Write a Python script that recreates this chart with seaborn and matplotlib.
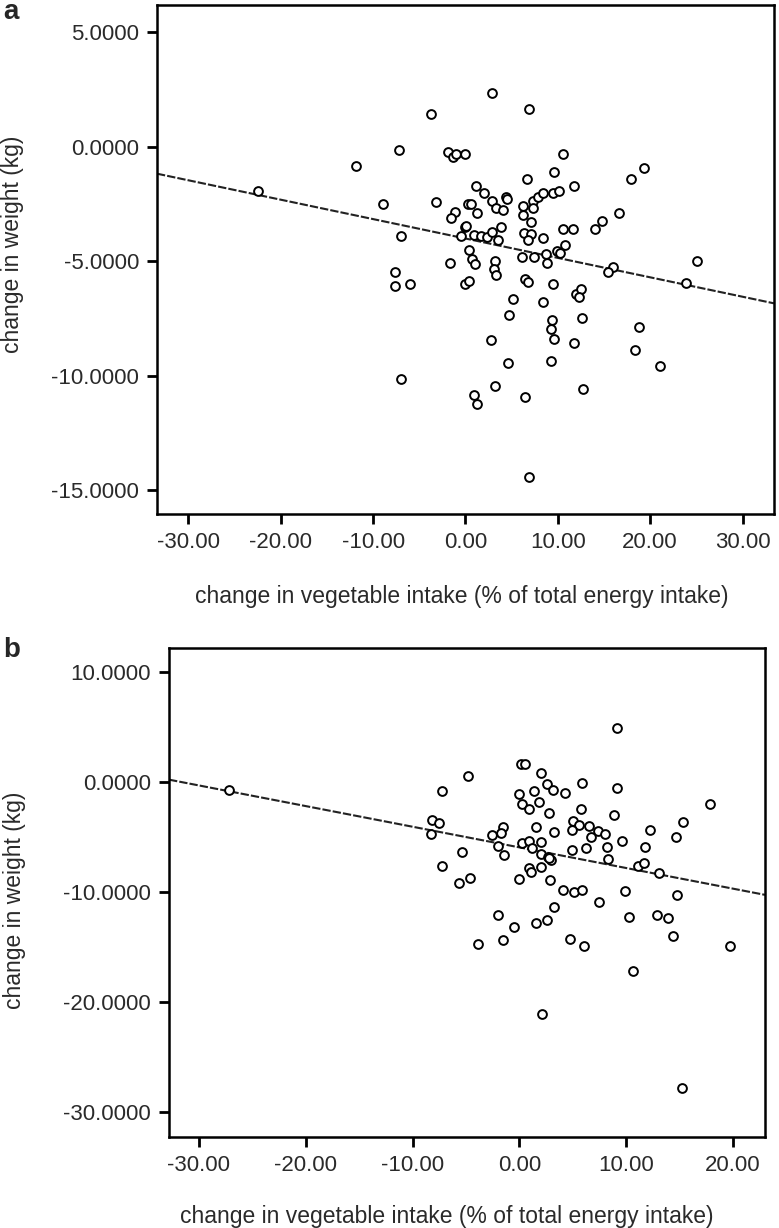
import matplotlib
matplotlib.use('Agg')
import matplotlib.pyplot as plt
from matplotlib.ticker import FormatStrFormatter
import seaborn as sns
import pandas as pd
import numpy as np

# panel a: change in vegetable intake (% energy) vs change in weight (kg)
veg_a = [-22.5, -11.87, -8.92, -7.22, -7.59, -7.59, -6.0, -6.94, -6.94, -3.70,
         -3.15, -1.86, -1.35, -0.99, 0.0, -1.13, -1.53, -0.09, -0.52, 0.27,
         0.35, -1.65, -0.09, 0.38, 2.90, 6.90, 10.54, 6.68, 9.57, 11.8,
         1.10, 2.0, 2.9, 4.35, 4.45, 3.26, 4.05, 0.63, 1.28, 6.22,
         7.30, 7.88, 8.41, 9.46, 10.1, 7.3, 6.22, 7.05, 6.32, 7.11,
         6.76, 8.41, 10.54, 11.6, 0.02, 0.92, 1.64, 2.36, 2.90, 3.85,
         3.5, 10.76, 9.93, 10.29, 8.67, 6.14, 7.41, 8.84, 0.74, 1.03,
         3.19, 3.08, 3.33, 6.43, 6.79, 9.5, 11.98, 12.56, 12.27, 5.1,
         8.38, 4.7, 9.32, 9.21, 9.64, 12.63, 2.72, 11.73, 18.76, 18.4,
         21.1, 4.63, 9.28, 3.15, 12.7, 0.92, 1.28, 6.5, 6.86, 19.37,
         17.9, 16.67, 14.0, 14.8, 25.1, 23.87, 15.98, 15.4]
wt_a = [-1.91, -0.83, -2.49, -0.13, -5.46, -6.09, -5.99, -3.88, -10.14, 1.45,
        -2.41, -0.22, -0.43, -0.29, -0.33, -2.86, -3.12, -3.49, -3.88, -2.49,
        -4.49, -5.07, -5.99, -5.87, 2.36, 1.67, -0.33, -1.41, -1.12, -1.71,
        -1.71, -2.0, -2.35, -2.2, -2.27, -2.68, -2.78, -2.49, -2.9, -2.58,
        -2.35, -2.2, -2.0, -2.0, -1.91, -2.68, -2.97, -3.29, -3.77, -3.8,
        -4.06, -3.99, -3.6, -3.6, -3.48, -3.87, -3.9, -3.95, -3.70, -3.5,
        -4.08, -4.27, -4.57, -4.66, -4.67, -4.83, -4.83, -5.07, -4.88, -5.1,
        -4.97, -5.36, -5.61, -5.77, -5.91, -5.99, -6.42, -6.23, -6.55, -6.67,
        -6.77, -7.35, -7.58, -7.97, -8.38, -7.46, -8.45, -8.58, -7.87, -8.87,
        -9.57, -9.46, -9.38, -10.46, -10.58, -10.84, -11.23, -10.94, -14.42, -0.91,
        -1.42, -2.90, -3.6, -3.26, -4.97, -5.94, -5.26, -5.46]

# panel b
veg_b = [-27.17, -7.26, -4.78, -8.16, -7.54, -8.25, -5.36, -7.26, -5.61, -4.64,
         9.13, 0.2, 0.5, 2.03, 2.55, 3.11, 5.83, 9.19, 4.3, 0.0,
         0.25, 0.87, 1.4, 1.8, 2.74, 5.77, 8.82, 17.85, 15.36, 14.7,
         12.21, 11.78, 4.98, 5.61, 4.89, 6.54, 7.41, 8.0, 6.7, 3.27,
         1.56, -2.55, -1.56, -1.71, -2.03, -1.47, 0.25, 0.87, 2.03, 1.18,
         2.03, 2.65, 2.96, 2.8, 4.89, 6.23, 8.2, 9.6, 8.32, 11.12,
         11.68, 13.08, 0.93, 1.09, 2.03, 0.0, 2.9, 4.05, 5.14, 5.86,
         9.88, 14.74, 7.45, 3.24, -2.03, -0.47, 1.56, 2.59, -3.89, -1.56,
         4.77, 6.07, 10.28, 12.93, 13.95, 14.42, 19.69, 10.68, 2.09, 15.27]
wt_b = [-0.67, -0.79, 0.55, -3.45, -3.75, -4.67, -6.33, -7.64, -9.21, -8.76,
        4.94, 1.64, 1.64, 0.85, -0.12, -0.73, -0.06, -0.48, -0.97, -1.09,
        -1.94, -2.48, -0.79, -1.79, -2.76, -2.45, -2.94, -1.94, -3.61, -4.97,
        -4.36, -5.88, -3.55, -3.85, -4.36, -3.97, -4.45, -4.73, -5.03, -4.52,
        -4.06, -4.82, -4.06, -4.58, -5.82, -6.58, -5.52, -5.33, -5.42, -5.97,
        -6.55, -6.79, -7.09, -6.94, -6.18, -5.97, -5.88, -5.36, -7.0, -7.64,
        -7.33, -8.24, -7.85, -8.15, -7.76, -8.85, -8.91, -9.82, -9.97, -9.82,
        -9.91, -10.27, -10.88, -11.33, -12.05, -13.15, -12.85, -12.55, -14.76, -14.36,
        -14.27, -14.88, -12.24, -12.09, -12.33, -13.97, -14.88, -17.18, -21.09, -27.85]

xlabel = 'change in vegetable intake (% of total energy intake)'
ylabel = 'change in weight (kg)'

sns.set_style('ticks')
plt.rcParams['font.family'] = ['Liberation Sans', 'DejaVu Sans']

fig = plt.figure(figsize=(7.79, 12.28), dpi=100)
ax_a = fig.add_axes([0.2015, 0.5814, 0.792, 0.4145])
ax_b = fig.add_axes([0.217, 0.0741, 0.765, 0.398])


def draw_panel(ax, x, y, xlim, ylim, xticks, yticks, ylab_pos, xlab_pos):
    df = pd.DataFrame({'veg': x, 'wt': y})
    ax.set_xlim(*xlim)
    ax.set_ylim(*ylim)
    # fit line across the full x range
    sns.regplot(data=df, x='veg', y='wt', ax=ax, scatter=False, ci=None, truncate=False,
                line_kws={'color': '#222222', 'lw': 1.5, 'ls': (0, (4, 1))})
    sns.scatterplot(data=df, x='veg', y='wt', ax=ax, s=40, facecolor='white',
                    edgecolor='black', linewidth=1.4, zorder=3)
    ax.set_xlim(*xlim)
    ax.set_ylim(*ylim)
    ax.set_xticks(xticks)
    ax.set_yticks(yticks)
    ax.xaxis.set_major_formatter(FormatStrFormatter('%.2f'))
    ax.yaxis.set_major_formatter(FormatStrFormatter('%.4f'))
    ax.tick_params(direction='out', length=7, width=2, labelsize=16, colors='black',
                   labelcolor='#2a2a2a', pad=6)
    for s in ax.spines.values():
        s.set_visible(True)
        s.set_linewidth(1.8)
        s.set_color('black')
    ax.set_xlabel(xlabel, fontsize=16.5, color='#2a2a2a')
    ax.set_ylabel(ylabel, fontsize=16.5, color='#2a2a2a')
    ax.yaxis.set_label_coords(*ylab_pos)
    ax.xaxis.set_label_coords(*xlab_pos)


draw_panel(ax_a, veg_a, wt_a, (-33.4, 33.4), (-16.05, 6.2),
           [-30, -20, -10, 0, 10, 20, 30], [5, 0, -5, -10, -15],
           (-0.215, 0.53), (0.494, -0.14))
draw_panel(ax_b, veg_b, wt_b, (-32.8, 23.0), (-32.3, 12.2),
           [-30, -20, -10, 0, 10, 20], [10, 0, -10, -20, -30],
           (-0.24, 0.485), (0.466, -0.14))

fig.text(0.004, 0.99, 'a', fontsize=20, fontweight='bold', va='center', ha='left')
fig.text(0.004, 1 - 650 / 1228, 'b', fontsize=20, fontweight='bold', va='center', ha='left')

fig.savefig('out.png', dpi=100)
